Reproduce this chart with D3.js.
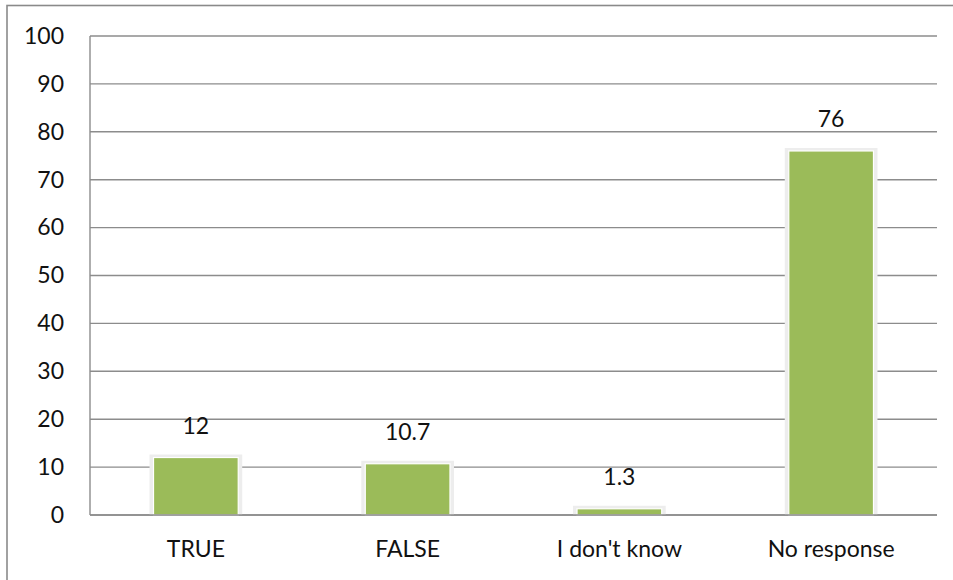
<!DOCTYPE html>
<html>
<head>
<meta charset="utf-8">
<script src="https://cdn.jsdelivr.net/npm/d3@7"></script>
<style>
  html, body { margin: 0; padding: 0; background: #ffffff; }
  svg { display: block; font-family: Lato, "Open Sans", sans-serif; }
</style>
</head>
<body>
<svg id="chart" width="953" height="580"></svg>
<script>
// Survey answers (percent of respondents)
const categories = ["TRUE", "FALSE", "I don't know", "No response"];
const values = [12, 10.7, 1.3, 76];
const valueLabels = ["12", "10.7", "1.3", "76"];
const yTicks = [0, 10, 20, 30, 40, 50, 60, 70, 80, 90, 100];

const svg = d3.select("#chart");
const W = 953, H = 580;
const margin = { left: 90, right: 16, top: 36, bottom: 65 };
const fontSize = 23;

// Outer frame
svg.append("rect")
  .attr("x", 7).attr("y", 5.5)
  .attr("width", 960).attr("height", 600)
  .attr("fill", "none").attr("stroke", "#8a8a8a").attr("stroke-width", 1.6);

const x = d3.scaleBand()
  .domain(categories)
  .range([margin.left, W - margin.right])
  .paddingInner(0.6).paddingOuter(0.3);

const y = d3.scaleLinear()
  .domain([0, 100])
  .range([H - margin.bottom, margin.top]);

// Horizontal gridlines
svg.append("g")
  .selectAll("line")
  .data(yTicks)
  .join("line")
  .attr("x1", margin.left).attr("x2", W - margin.right)
  .attr("y1", d => y(d)).attr("y2", d => y(d))
  .attr("stroke", "#8c8c8c").attr("stroke-width", 1.4);

// Vertical axis line
svg.append("line")
  .attr("x1", margin.left).attr("x2", margin.left)
  .attr("y1", y(100)).attr("y2", y(0))
  .attr("stroke", "#8c8c8c").attr("stroke-width", 1.4);

// Y tick labels
const yAxis = d3.axisLeft(y).tickValues(yTicks).tickSize(0).tickPadding(26);
const ya = svg.append("g")
  .attr("transform", `translate(${margin.left},0)`)
  .call(yAxis);
ya.select(".domain").remove();
ya.selectAll("text")
  .attr("font-family", "Lato, 'Open Sans', sans-serif")
  .attr("font-size", fontSize).attr("fill", "#111");

// Soft shadow around bars
const bars = svg.append("g");
bars.selectAll("rect.shadow")
  .data(values)
  .join("rect")
  .attr("class", "shadow")
  .attr("x", (d, i) => x(categories[i]) - 4)
  .attr("y", d => y(d) - 3)
  .attr("width", x.bandwidth() + 8)
  .attr("height", d => y(0) - y(d) + 3)
  .attr("fill", "#ededed");

bars.selectAll("rect.bar")
  .data(values)
  .join("rect")
  .attr("class", "bar")
  .attr("x", (d, i) => x(categories[i]))
  .attr("y", d => y(d))
  .attr("width", x.bandwidth())
  .attr("height", d => y(0) - y(d))
  .attr("fill", "#9bbb59")
  .attr("stroke", "#ffffff").attr("stroke-width", 1.2);

// Redraw baseline on top of bars
svg.append("line")
  .attr("x1", margin.left).attr("x2", W - margin.right)
  .attr("y1", y(0)).attr("y2", y(0))
  .attr("stroke", "#8c8c8c").attr("stroke-width", 1.4);

// Value labels
svg.append("g")
  .selectAll("text")
  .data(values)
  .join("text")
  .attr("x", (d, i) => x(categories[i]) + x.bandwidth() / 2)
  .attr("y", d => y(d) - 24)
  .attr("text-anchor", "middle")
  .attr("font-size", fontSize).attr("fill", "#111")
  .text((d, i) => valueLabels[i]);

// Category labels
const xAxis = d3.axisBottom(x).tickSize(0).tickPadding(26);
const xa = svg.append("g")
  .attr("transform", `translate(0,${y(0)})`)
  .call(xAxis);
xa.select(".domain").remove();
xa.selectAll("text")
  .attr("font-family", "Lato, 'Open Sans', sans-serif")
  .attr("font-size", fontSize).attr("fill", "#111");
</script>
</body>
</html>
